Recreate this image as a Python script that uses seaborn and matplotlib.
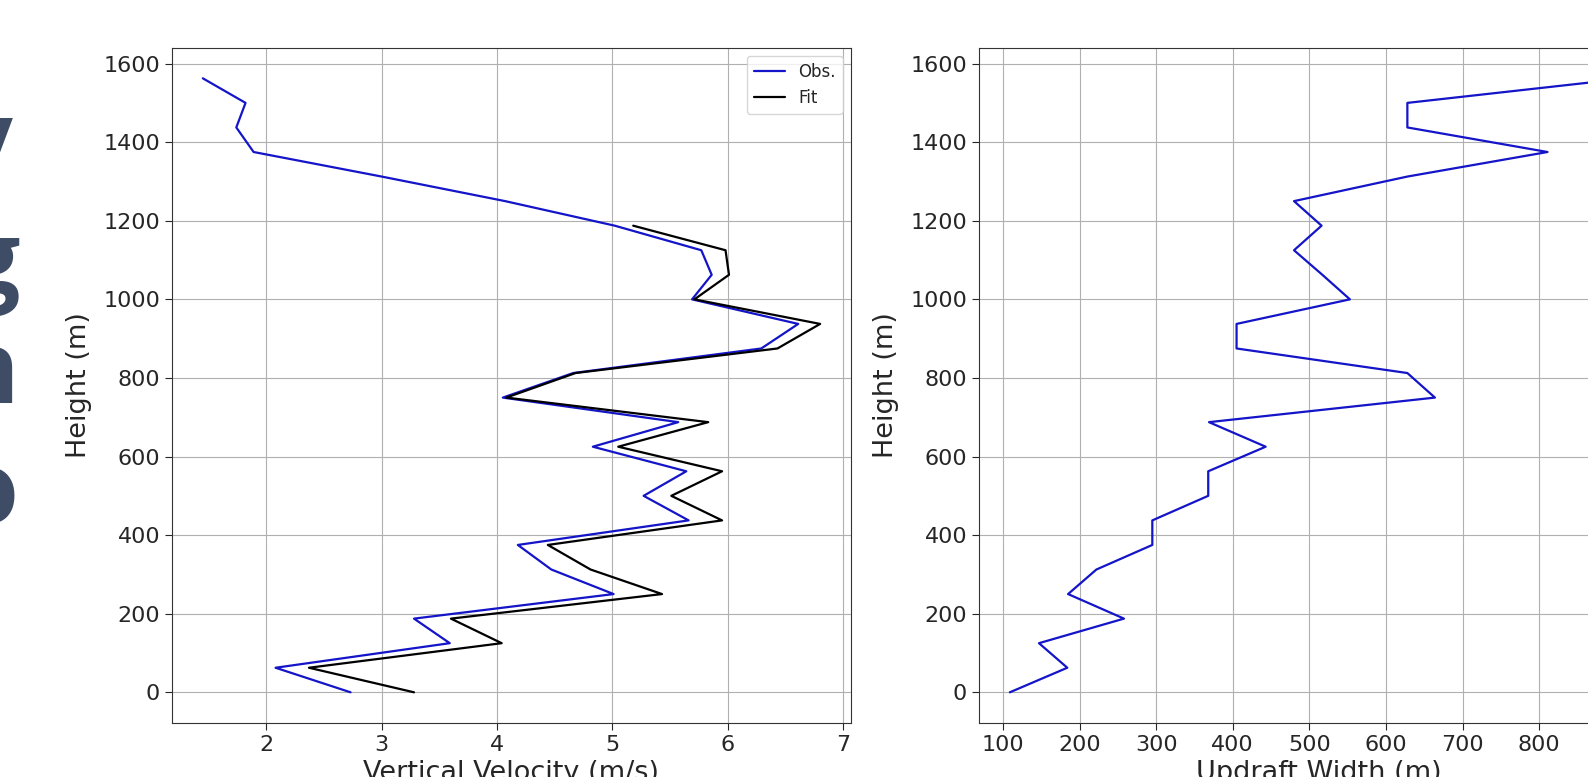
import matplotlib
matplotlib.use("Agg")
import matplotlib.pyplot as plt
import seaborn as sns

# Heights of the profile levels (m)
height = [0, 62.5, 125, 187.5, 250, 312.5, 375, 437.5, 500, 562.5, 625, 687.5,
          750, 812.5, 875, 937.5, 1000, 1062.5, 1125, 1187.5, 1250, 1312.5,
          1375, 1437.5, 1500, 1562.5]

# Observed vertical velocity (m/s)
w_obs = [2.73, 2.08, 3.59, 3.28, 5.01, 4.47, 4.18, 5.66, 5.27, 5.64, 4.83, 5.57,
         4.05, 4.66, 6.29, 6.61, 5.69, 5.86, 5.77, 5.02, 4.07, 3.00,
         1.89, 1.74, 1.82, 1.45]

# Fitted vertical velocity (m/s), only up to 1187.5 m
height_fit = height[:20]
w_fit = [3.28, 2.37, 4.04, 3.60, 5.43, 4.81, 4.44, 5.95, 5.51, 5.95, 5.05, 5.83,
         4.08, 4.68, 6.43, 6.80, 5.71, 6.01, 5.98, 5.18]

# Updraft width (m)
width = [109, 184, 147, 258, 185, 222, 295, 295, 368, 368, 443, 369,
         664, 628, 405, 405, 553, 517, 480, 516, 480, 628,
         811, 628, 628, 915]

sns.set_style("ticks", {"axes.grid": True, "grid.color": "#b0b0b0",
                        "axes.edgecolor": "#333333"})
plt.rcParams["font.family"] = ["DejaVu Sans"]
plt.rcParams["grid.linewidth"] = 0.8

fig = plt.figure(figsize=(15.88, 7.77), dpi=100)

# big slide text cut off at the left edge
for letter, xr, yt in [("y", 12, 96), ("g", 20, 216), ("n", 19, 326), ("o", 18, 446)]:
    fig.text(xr / 1588, 1 - yt / 777, letter, ha="right", va="top",
             fontsize=72, fontweight="bold", color="#3e4c66", family="Open Sans")

ax1 = fig.add_axes([0.1083, 0.0695, 0.4276, 0.8692])
ax2 = fig.add_axes([0.6165, 0.0695, 0.4276, 0.8692])

sns.lineplot(x=w_obs, y=height, sort=False, estimator=None, color="#1414c8",
             lw=1.6, label="Obs.", ax=ax1)
sns.lineplot(x=w_fit, y=height_fit, sort=False, estimator=None, color="black",
             lw=1.6, label="Fit", ax=ax1)
ax1.set_xlabel("Vertical Velocity (m/s)", fontsize=19.5)
ax1.set_ylabel("Height (m)", fontsize=19.5, labelpad=8)
ax1.legend(loc="upper right", fontsize=12, handlelength=1.9)

sns.lineplot(x=width, y=height, sort=False, estimator=None, color="#1414c8",
             lw=1.6, ax=ax2)
ax2.set_xlabel("Updraft Width (m)", fontsize=19.5)
ax2.set_ylabel("Height (m)", fontsize=19.5, labelpad=8)

for ax in (ax1, ax2):
    ax.tick_params(labelsize=16, length=5)
    ax.set_yticks([0, 200, 400, 600, 800, 1000, 1200, 1400, 1600])
    ax.grid(True)

fig.savefig("out.png", dpi=100)
